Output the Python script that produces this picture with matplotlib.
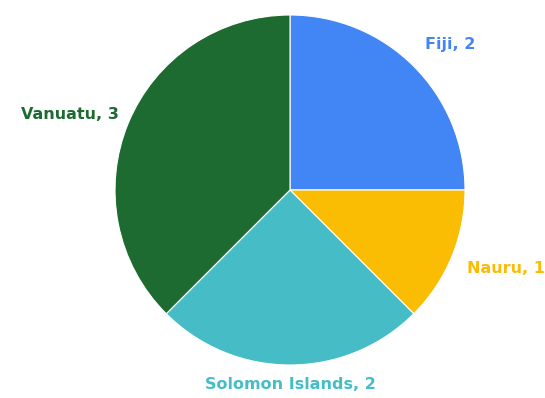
import matplotlib.pyplot as plt

countries = ["Fiji", "Nauru", "Solomon Islands", "Vanuatu"]
counts = [2, 1, 2, 3]
colors = ["#4285F4", "#FBBC04", "#46BDC6", "#1E6B32"]

# label anchors (x, y, ha) in pie-radius units
label_pos = [(0.77, 0.83, "left"), (1.01, -0.45, "left"),
             (0.0, -1.11, "center"), (-0.98, 0.43, "right")]

fig = plt.figure(figsize=(5.45, 3.98), dpi=100)
# pie centre ~ (290, 190) px, radius ~175 px
ax = fig.add_axes([115 / 545, (398 - 190 - 175) / 398, 350 / 545, 350 / 398])

labels = [f"{c}, {n}" for c, n in zip(countries, counts)]
wedges, texts = ax.pie(counts, labels=labels, colors=colors, startangle=90,
                       counterclock=False,
                       wedgeprops=dict(edgecolor="white", linewidth=0.8),
                       textprops=dict(fontsize=11.5, fontweight="bold"))
for t, c, (x, y, ha) in zip(texts, colors, label_pos):
    t.set_color(c)
    t.set_position((x, y))
    t.set_ha(ha)
    t.set_va("center")
    t.set_clip_on(False)

ax.set_xlim(-1, 1)
ax.set_ylim(-1, 1)
ax.set_aspect("equal")
fig.savefig("out.png", dpi=100)
